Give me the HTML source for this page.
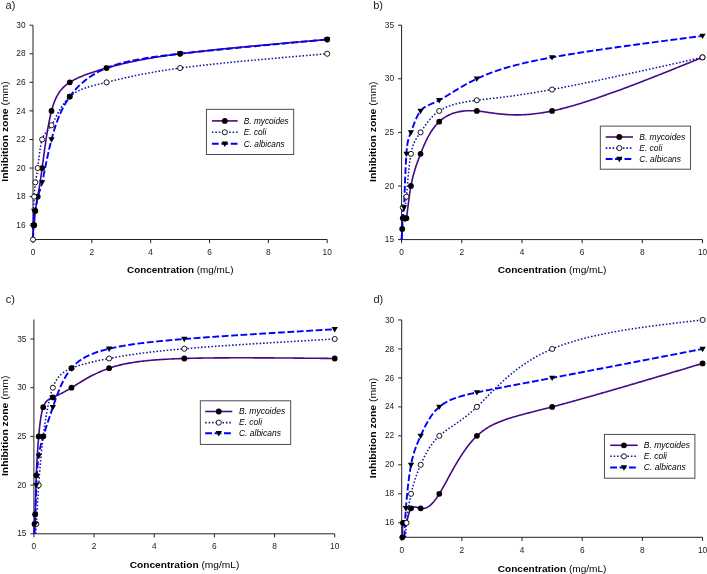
<!DOCTYPE html>
<html lang="en"><head><meta charset="utf-8"><title>Inhibition zone vs concentration</title>
<style>
html,body{margin:0;padding:0;background:#fff;}
body{width:707px;height:574px;overflow:hidden;font-family:"Liberation Sans", sans-serif;}
svg{display:block;}
</style></head><body>
<svg width="707" height="574" viewBox="0 0 707 574">
<rect width="707" height="574" fill="#fff"/>
<g id="panel-a">
<clipPath id="clip-a"><rect x="29" y="21.19" width="302.2" height="218.91"/></clipPath>
<path d="M33,25.19V239.5H327.2" fill="none" stroke="#222" stroke-width="1"/>
<path d="M33,239.5v3.6M91.84,239.5v3.6M150.68,239.5v3.6M209.52,239.5v3.6M268.36,239.5v3.6M327.2,239.5v3.6M33,225.21h-3.5M33,196.64h-3.5M33,168.06h-3.5M33,139.49h-3.5M33,110.92h-3.5M33,82.34h-3.5M33,53.77h-3.5M33,25.19h-3.5" fill="none" stroke="#222" stroke-width="1"/>
<g font-size="8.3" fill="#222" font-family='"Liberation Sans", sans-serif'>
<text x="33" y="254.7" text-anchor="middle">0</text>
<text x="91.84" y="254.7" text-anchor="middle">2</text>
<text x="150.68" y="254.7" text-anchor="middle">4</text>
<text x="209.52" y="254.7" text-anchor="middle">6</text>
<text x="268.36" y="254.7" text-anchor="middle">8</text>
<text x="327.2" y="254.7" text-anchor="middle">10</text>
<text x="25.5" y="227.81" text-anchor="end">16</text>
<text x="25.5" y="199.24" text-anchor="end">18</text>
<text x="25.5" y="170.66" text-anchor="end">20</text>
<text x="25.5" y="142.09" text-anchor="end">22</text>
<text x="25.5" y="113.52" text-anchor="end">24</text>
<text x="25.5" y="84.94" text-anchor="end">26</text>
<text x="25.5" y="56.37" text-anchor="end">28</text>
<text x="25.5" y="27.79" text-anchor="end">30</text>
</g>
<text transform="translate(180.3,273.2) scale(1,1)" text-anchor="middle" font-size="9.9" fill="#000" font-family='"Liberation Sans", sans-serif'><tspan font-weight="bold">Concentration</tspan> (mg/mL)</text>
<text transform="translate(7.7,131.5) rotate(-90) scale(1.083,1)" text-anchor="middle" font-size="9.6" fill="#000" font-family='"Liberation Sans", sans-serif'><tspan font-weight="bold">Inhibition zone</tspan> (mm)</text>
<text x="5.6" y="8.9" font-size="11" fill="#222" font-family='"Liberation Sans", sans-serif'>a)</text>
<path clip-path="url(#clip-a)" d="M33,239.5 L33.07,237.38 L33.14,235.29 L33.2,233.29 L33.27,231.41 L33.34,229.69 L33.4,228.17 L33.47,226.89 L33.53,225.89 L33.59,225.21 L33.68,224.82 L33.76,224.96 L33.85,225.34 L33.95,225.7 L34.06,225.75 L34.18,225.21 L34.27,224.41 L34.36,223.28 L34.47,221.87 L34.59,220.25 L34.71,218.47 L34.85,216.59 L35.01,214.67 L35.17,212.76 L35.35,210.93 L35.55,209.21 L35.76,207.59 L35.99,206.04 L36.23,204.54 L36.5,203.04 L36.77,201.54 L37.07,199.99 L37.38,198.36 L37.71,196.64 L37.87,195.78 L38.04,194.88 L38.21,193.94 L38.38,192.95 L38.57,191.91 L38.76,190.81 L38.96,189.64 L39.16,188.39 L39.38,187.07 L39.6,185.66 L39.83,184.16 L40.08,182.56 L40.33,180.85 L40.6,179.04 L40.87,177.1 L41.17,175.04 L41.47,172.86 L41.79,170.53 L42.12,168.06 L42.29,166.78 L42.47,165.45 L42.65,164.1 L42.83,162.71 L43.02,161.29 L43.21,159.85 L43.4,158.38 L43.6,156.88 L43.81,155.37 L44.01,153.83 L44.22,152.28 L44.44,150.71 L44.66,149.13 L44.88,147.54 L45.11,145.93 L45.34,144.32 L45.58,142.71 L45.81,141.09 L46.06,139.46 L46.31,137.84 L46.56,136.22 L46.82,134.61 L47.08,133 L47.34,131.4 L47.61,129.8 L47.89,128.22 L48.17,126.66 L48.45,125.11 L48.74,123.58 L49.03,122.06 L49.33,120.57 L49.63,119.11 L49.93,117.67 L50.25,116.25 L50.56,114.87 L50.88,113.52 L51.21,112.2 L51.53,110.92 L52.11,108.79 L52.71,106.77 L53.32,104.85 L53.95,103.03 L54.6,101.31 L55.27,99.67 L55.96,98.13 L56.68,96.66 L57.42,95.27 L58.18,93.96 L58.97,92.72 L59.79,91.53 L60.64,90.41 L61.51,89.35 L62.42,88.34 L63.37,87.37 L64.34,86.45 L65.35,85.57 L66.4,84.72 L67.49,83.9 L68.61,83.11 L69.78,82.34 L70.79,81.71 L71.84,81.08 L72.92,80.47 L74.03,79.86 L75.17,79.27 L76.33,78.69 L77.54,78.11 L78.77,77.54 L80.03,76.98 L81.33,76.43 L82.65,75.89 L84.01,75.35 L85.4,74.81 L86.83,74.28 L88.29,73.76 L89.78,73.23 L91.3,72.71 L92.86,72.2 L94.45,71.68 L96.07,71.16 L97.73,70.65 L99.43,70.13 L101.15,69.62 L102.92,69.1 L104.72,68.58 L106.55,68.06 L107.54,67.78 L108.54,67.5 L109.55,67.22 L110.57,66.94 L111.6,66.65 L112.65,66.37 L113.71,66.09 L114.79,65.8 L115.88,65.52 L116.99,65.23 L118.12,64.94 L119.26,64.66 L120.42,64.37 L121.6,64.08 L122.8,63.79 L124.02,63.5 L125.26,63.21 L126.52,62.92 L127.81,62.63 L129.11,62.34 L130.45,62.04 L131.8,61.75 L133.18,61.46 L134.59,61.17 L136.02,60.87 L137.48,60.58 L138.97,60.28 L140.48,59.99 L142.03,59.69 L143.61,59.4 L145.21,59.1 L146.85,58.81 L148.52,58.51 L150.22,58.21 L151.95,57.92 L153.72,57.62 L155.52,57.32 L157.36,57.03 L159.23,56.73 L161.14,56.43 L163.09,56.14 L165.08,55.84 L167.1,55.54 L169.17,55.25 L171.27,54.95 L173.42,54.66 L175.6,54.36 L177.83,54.06 L180.1,53.77 L181.25,53.62 L182.41,53.47 L183.59,53.33 L184.77,53.18 L185.96,53.03 L187.17,52.88 L188.38,52.74 L189.61,52.59 L190.84,52.44 L192.09,52.29 L193.34,52.15 L194.6,52 L195.88,51.85 L197.16,51.71 L198.45,51.56 L199.75,51.41 L201.06,51.27 L202.38,51.12 L203.71,50.97 L205.05,50.83 L206.39,50.68 L207.75,50.53 L209.11,50.39 L210.48,50.24 L211.86,50.09 L213.25,49.95 L214.64,49.8 L216.05,49.65 L217.46,49.51 L218.88,49.36 L220.3,49.22 L221.73,49.07 L223.18,48.92 L224.62,48.78 L226.08,48.63 L227.54,48.49 L229.01,48.34 L230.48,48.19 L231.97,48.05 L233.46,47.9 L234.95,47.76 L236.45,47.61 L237.96,47.46 L239.47,47.32 L240.99,47.17 L242.52,47.03 L244.05,46.88 L245.59,46.74 L247.13,46.59 L248.68,46.44 L250.23,46.3 L251.79,46.15 L253.35,46.01 L254.92,45.86 L256.5,45.72 L258.08,45.57 L259.66,45.43 L261.25,45.28 L262.84,45.14 L264.43,44.99 L266.03,44.85 L267.64,44.7 L269.25,44.56 L270.86,44.41 L272.48,44.26 L274.1,44.12 L275.72,43.97 L277.35,43.83 L278.98,43.68 L280.61,43.54 L282.25,43.39 L283.89,43.25 L285.53,43.1 L287.17,42.96 L288.82,42.81 L290.47,42.67 L292.12,42.52 L293.78,42.38 L295.44,42.23 L297.1,42.09 L298.76,41.94 L300.42,41.8 L302.09,41.65 L303.75,41.51 L305.42,41.36 L307.09,41.22 L308.76,41.08 L310.43,40.93 L312.11,40.79 L313.78,40.64 L315.46,40.5 L317.13,40.35 L318.81,40.21 L320.49,40.06 L322.17,39.92 L323.84,39.77 L325.52,39.63 L327.2,39.48" fill="none" stroke="#470a86" stroke-width="1.6"/>
<path clip-path="url(#clip-a)" d="M33,239.5 L33.03,237.79 L33.06,236.08 L33.1,234.38 L33.13,232.69 L33.16,231.02 L33.19,229.36 L33.22,227.72 L33.26,226.11 L33.29,224.52 L33.32,222.97 L33.35,221.45 L33.38,219.96 L33.41,218.52 L33.44,217.12 L33.47,215.77 L33.5,214.48 L33.53,213.23 L33.56,212.05 L33.59,210.93 L33.65,208.76 L33.71,206.85 L33.76,205.13 L33.82,203.58 L33.89,202.14 L33.95,200.77 L34.02,199.42 L34.1,198.06 L34.18,196.64 L34.27,195.12 L34.36,193.53 L34.47,191.88 L34.59,190.2 L34.71,188.53 L34.85,186.88 L35.01,185.28 L35.17,183.76 L35.35,182.35 L35.55,181.06 L35.76,179.83 L35.99,178.61 L36.23,177.35 L36.5,175.96 L36.77,174.4 L37.07,172.61 L37.38,170.52 L37.71,168.06 L37.87,166.76 L38.04,165.38 L38.21,163.92 L38.38,162.4 L38.57,160.83 L38.76,159.22 L38.96,157.58 L39.16,155.92 L39.38,154.25 L39.6,152.58 L39.83,150.93 L40.08,149.3 L40.33,147.71 L40.6,146.16 L40.87,144.67 L41.17,143.25 L41.47,141.9 L41.79,140.65 L42.12,139.49 L42.73,137.74 L43.39,136.26 L44.09,134.99 L44.84,133.87 L45.64,132.84 L46.49,131.84 L47.39,130.81 L48.35,129.69 L49.35,128.43 L50.42,126.95 L51.53,125.2 L52.11,124.21 L52.71,123.15 L53.32,122.01 L53.95,120.82 L54.6,119.57 L55.27,118.27 L55.96,116.93 L56.68,115.56 L57.42,114.16 L58.18,112.74 L58.97,111.3 L59.79,109.86 L60.64,108.42 L61.51,106.99 L62.42,105.57 L63.37,104.18 L64.34,102.81 L65.35,101.48 L66.4,100.18 L67.49,98.94 L68.61,97.75 L69.78,96.63 L70.79,95.73 L71.84,94.88 L72.92,94.07 L74.03,93.31 L75.17,92.59 L76.33,91.9 L77.54,91.25 L78.77,90.63 L80.03,90.04 L81.33,89.48 L82.65,88.95 L84.01,88.44 L85.4,87.95 L86.83,87.47 L88.29,87.02 L89.78,86.57 L91.3,86.14 L92.86,85.72 L94.45,85.3 L96.07,84.88 L97.73,84.47 L99.43,84.06 L101.15,83.64 L102.92,83.22 L104.72,82.79 L106.55,82.34 L107.54,82.1 L108.54,81.86 L109.55,81.61 L110.57,81.36 L111.6,81.11 L112.65,80.85 L113.71,80.59 L114.79,80.33 L115.88,80.06 L116.99,79.79 L118.12,79.52 L119.26,79.24 L120.42,78.97 L121.6,78.69 L122.8,78.4 L124.02,78.12 L125.26,77.83 L126.52,77.54 L127.81,77.25 L129.11,76.96 L130.45,76.66 L131.8,76.37 L133.18,76.07 L134.59,75.77 L136.02,75.47 L137.48,75.17 L138.97,74.86 L140.48,74.56 L142.03,74.25 L143.61,73.95 L145.21,73.64 L146.85,73.33 L148.52,73.02 L150.22,72.71 L151.95,72.4 L153.72,72.09 L155.52,71.78 L157.36,71.47 L159.23,71.16 L161.14,70.84 L163.09,70.53 L165.08,70.22 L167.1,69.91 L169.17,69.6 L171.27,69.29 L173.42,68.98 L175.6,68.67 L177.83,68.36 L180.1,68.06 L181.25,67.9 L182.41,67.75 L183.59,67.6 L184.77,67.44 L185.96,67.29 L187.17,67.14 L188.38,66.99 L189.61,66.84 L190.84,66.68 L192.09,66.53 L193.34,66.38 L194.6,66.23 L195.88,66.08 L197.16,65.93 L198.45,65.78 L199.75,65.63 L201.06,65.48 L202.38,65.33 L203.71,65.18 L205.05,65.03 L206.39,64.88 L207.75,64.73 L209.11,64.58 L210.48,64.44 L211.86,64.29 L213.25,64.14 L214.64,63.99 L216.05,63.84 L217.46,63.7 L218.88,63.55 L220.3,63.4 L221.73,63.25 L223.18,63.11 L224.62,62.96 L226.08,62.81 L227.54,62.67 L229.01,62.52 L230.48,62.37 L231.97,62.23 L233.46,62.08 L234.95,61.93 L236.45,61.79 L237.96,61.64 L239.47,61.5 L240.99,61.35 L242.52,61.21 L244.05,61.06 L245.59,60.92 L247.13,60.77 L248.68,60.63 L250.23,60.48 L251.79,60.34 L253.35,60.19 L254.92,60.05 L256.5,59.91 L258.08,59.76 L259.66,59.62 L261.25,59.47 L262.84,59.33 L264.43,59.19 L266.03,59.04 L267.64,58.9 L269.25,58.76 L270.86,58.61 L272.48,58.47 L274.1,58.33 L275.72,58.18 L277.35,58.04 L278.98,57.9 L280.61,57.75 L282.25,57.61 L283.89,57.47 L285.53,57.32 L287.17,57.18 L288.82,57.04 L290.47,56.9 L292.12,56.75 L293.78,56.61 L295.44,56.47 L297.1,56.33 L298.76,56.18 L300.42,56.04 L302.09,55.9 L303.75,55.76 L305.42,55.62 L307.09,55.47 L308.76,55.33 L310.43,55.19 L312.11,55.05 L313.78,54.9 L315.46,54.76 L317.13,54.62 L318.81,54.48 L320.49,54.34 L322.17,54.19 L323.84,54.05 L325.52,53.91 L327.2,53.77" fill="none" stroke="#1414a4" stroke-width="1.55" stroke-dasharray="1.55 1.9"/>
<path clip-path="url(#clip-a)" d="M33,239.5 L33.07,238.06 L33.14,236.61 L33.2,235.13 L33.27,233.63 L33.34,232.08 L33.4,230.47 L33.47,228.8 L33.53,227.05 L33.59,225.21 L33.65,223.29 L33.71,221.32 L33.76,219.36 L33.82,217.47 L33.89,215.7 L33.95,214.1 L34.02,212.74 L34.1,211.66 L34.18,210.93 L34.31,210.5 L34.47,210.66 L34.65,211.09 L34.85,211.49 L35.09,211.53 L35.35,210.93 L35.55,210.03 L35.76,208.78 L35.99,207.26 L36.23,205.54 L36.5,203.69 L36.77,201.8 L37.07,199.95 L37.38,198.2 L37.71,196.64 L38.05,195.31 L38.42,194.15 L38.82,193.05 L39.25,191.92 L39.73,190.66 L40.24,189.18 L40.81,187.36 L41.44,185.12 L42.12,182.35 L42.35,181.37 L42.58,180.34 L42.82,179.24 L43.06,178.1 L43.32,176.9 L43.58,175.66 L43.84,174.37 L44.11,173.04 L44.39,171.67 L44.68,170.26 L44.97,168.81 L45.28,167.34 L45.58,165.83 L45.9,164.29 L46.22,162.73 L46.55,161.14 L46.89,159.53 L47.23,157.91 L47.59,156.26 L47.95,154.61 L48.31,152.94 L48.69,151.26 L49.07,149.58 L49.46,147.9 L49.86,146.21 L50.27,144.52 L50.68,142.84 L51.1,141.16 L51.53,139.49 L51.94,137.94 L52.36,136.4 L52.79,134.86 L53.22,133.34 L53.67,131.83 L54.12,130.32 L54.58,128.83 L55.05,127.35 L55.54,125.88 L56.03,124.42 L56.54,122.97 L57.06,121.53 L57.59,120.11 L58.13,118.69 L58.69,117.29 L59.26,115.9 L59.84,114.53 L60.44,113.16 L61.06,111.81 L61.69,110.47 L62.33,109.14 L63,107.83 L63.68,106.53 L64.37,105.24 L65.09,103.97 L65.82,102.71 L66.57,101.46 L67.34,100.23 L68.13,99.02 L68.94,97.82 L69.78,96.63 L70.63,95.46 L71.5,94.3 L72.39,93.16 L73.31,92.04 L74.24,90.93 L75.2,89.83 L76.18,88.75 L77.18,87.69 L78.21,86.64 L79.25,85.62 L80.32,84.6 L81.41,83.61 L82.52,82.63 L83.66,81.66 L84.82,80.72 L86,79.79 L87.2,78.88 L88.43,77.99 L89.68,77.11 L90.95,76.26 L92.25,75.42 L93.57,74.6 L94.92,73.79 L96.29,73.01 L97.68,72.25 L99.1,71.5 L100.54,70.77 L102,70.06 L103.49,69.37 L105.01,68.71 L106.55,68.06 L107.54,67.66 L108.54,67.26 L109.55,66.88 L110.57,66.5 L111.6,66.13 L112.65,65.76 L113.71,65.41 L114.79,65.05 L115.88,64.71 L116.99,64.37 L118.12,64.04 L119.26,63.71 L120.42,63.39 L121.6,63.07 L122.8,62.76 L124.02,62.46 L125.26,62.15 L126.52,61.86 L127.81,61.56 L129.11,61.28 L130.45,60.99 L131.8,60.71 L133.18,60.43 L134.59,60.16 L136.02,59.89 L137.48,59.62 L138.97,59.35 L140.48,59.09 L142.03,58.83 L143.61,58.57 L145.21,58.31 L146.85,58.06 L148.52,57.8 L150.22,57.55 L151.95,57.3 L153.72,57.05 L155.52,56.8 L157.36,56.55 L159.23,56.3 L161.14,56.05 L163.09,55.8 L165.08,55.55 L167.1,55.3 L169.17,55.04 L171.27,54.79 L173.42,54.54 L175.6,54.28 L177.83,54.03 L180.1,53.77 L181.25,53.64 L182.41,53.51 L183.59,53.38 L184.77,53.25 L185.96,53.11 L187.17,52.98 L188.38,52.85 L189.61,52.72 L190.84,52.58 L192.09,52.45 L193.34,52.31 L194.6,52.18 L195.88,52.04 L197.16,51.91 L198.45,51.77 L199.75,51.64 L201.06,51.5 L202.38,51.36 L203.71,51.22 L205.05,51.08 L206.39,50.95 L207.75,50.81 L209.11,50.67 L210.48,50.53 L211.86,50.39 L213.25,50.25 L214.64,50.11 L216.05,49.96 L217.46,49.82 L218.88,49.68 L220.3,49.54 L221.73,49.4 L223.18,49.25 L224.62,49.11 L226.08,48.97 L227.54,48.82 L229.01,48.68 L230.48,48.53 L231.97,48.39 L233.46,48.24 L234.95,48.1 L236.45,47.95 L237.96,47.8 L239.47,47.66 L240.99,47.51 L242.52,47.36 L244.05,47.22 L245.59,47.07 L247.13,46.92 L248.68,46.77 L250.23,46.63 L251.79,46.48 L253.35,46.33 L254.92,46.18 L256.5,46.03 L258.08,45.88 L259.66,45.73 L261.25,45.58 L262.84,45.43 L264.43,45.28 L266.03,45.13 L267.64,44.98 L269.25,44.83 L270.86,44.68 L272.48,44.53 L274.1,44.38 L275.72,44.23 L277.35,44.08 L278.98,43.92 L280.61,43.77 L282.25,43.62 L283.89,43.47 L285.53,43.32 L287.17,43.16 L288.82,43.01 L290.47,42.86 L292.12,42.71 L293.78,42.55 L295.44,42.4 L297.1,42.25 L298.76,42.09 L300.42,41.94 L302.09,41.79 L303.75,41.63 L305.42,41.48 L307.09,41.33 L308.76,41.17 L310.43,41.02 L312.11,40.87 L313.78,40.71 L315.46,40.56 L317.13,40.41 L318.81,40.25 L320.49,40.1 L322.17,39.94 L323.84,39.79 L325.52,39.64 L327.2,39.48" fill="none" stroke="#0000ff" stroke-width="1.9" stroke-dasharray="6.8 2.6"/>
<circle cx="33.59" cy="225.21" r="2.9" fill="#000"/>
<circle cx="34.18" cy="225.21" r="2.9" fill="#000"/>
<circle cx="35.35" cy="210.93" r="2.9" fill="#000"/>
<circle cx="37.71" cy="196.64" r="2.9" fill="#000"/>
<circle cx="42.12" cy="168.06" r="2.9" fill="#000"/>
<circle cx="51.53" cy="110.92" r="2.9" fill="#000"/>
<circle cx="69.78" cy="82.34" r="2.9" fill="#000"/>
<circle cx="106.55" cy="68.06" r="2.9" fill="#000"/>
<circle cx="180.1" cy="53.77" r="2.9" fill="#000"/>
<circle cx="327.2" cy="39.48" r="2.9" fill="#000"/>
<circle cx="33" cy="239.5" r="2.55" fill="#fff" stroke="#000" stroke-width="0.9"/>
<circle cx="34.18" cy="196.64" r="2.55" fill="#fff" stroke="#000" stroke-width="0.9"/>
<circle cx="35.35" cy="182.35" r="2.55" fill="#fff" stroke="#000" stroke-width="0.9"/>
<circle cx="37.71" cy="168.06" r="2.55" fill="#fff" stroke="#000" stroke-width="0.9"/>
<circle cx="42.12" cy="139.49" r="2.55" fill="#fff" stroke="#000" stroke-width="0.9"/>
<circle cx="51.53" cy="125.2" r="2.55" fill="#fff" stroke="#000" stroke-width="0.9"/>
<circle cx="69.78" cy="96.63" r="2.55" fill="#fff" stroke="#000" stroke-width="0.9"/>
<circle cx="106.55" cy="82.34" r="2.55" fill="#fff" stroke="#000" stroke-width="0.9"/>
<circle cx="180.1" cy="68.06" r="2.55" fill="#fff" stroke="#000" stroke-width="0.9"/>
<circle cx="327.2" cy="53.77" r="2.55" fill="#fff" stroke="#000" stroke-width="0.9"/>
<path d="M30.44,223.01H36.74L33.59,228.41Z" fill="#000"/>
<path d="M31.03,208.73H37.33L34.18,214.13Z" fill="#000"/>
<path d="M38.97,180.15H45.27L42.12,185.55Z" fill="#000"/>
<path d="M48.38,137.29H54.68L51.53,142.69Z" fill="#000"/>
<circle cx="69.78" cy="96.63" r="2.7" fill="#000"/>
<path d="M66.62,94.43H72.93L69.78,99.83Z" fill="#000"/>
<path d="M103.4,65.86H109.7L106.55,71.26Z" fill="#000"/>
<path d="M176.95,51.57H183.25L180.1,56.97Z" fill="#000"/>
<path d="M324.05,37.28H330.35L327.2,42.68Z" fill="#000"/>
<rect x="206.4" y="109.3" width="87.3" height="45.2" fill="#fff" stroke="#3a3a3a" stroke-width="0.9"/>
<path d="M211.9,120.9H237.7" fill="none" stroke="#470a86" stroke-width="1.6"/>
<circle cx="224.8" cy="120.9" r="2.9" fill="#000"/>
<text x="243.8" y="123.7" font-size="8.26" font-style="italic" fill="#000" font-family='"Liberation Sans", sans-serif'>B. mycoides</text>
<path d="M211.9,132.3H237.7" fill="none" stroke="#1414a4" stroke-width="1.55" stroke-dasharray="1.55 1.9"/>
<circle cx="224.8" cy="132.3" r="2.55" fill="#fff" stroke="#000" stroke-width="0.9"/>
<text x="243.8" y="135.1" font-size="8.26" font-style="italic" fill="#000" font-family='"Liberation Sans", sans-serif'>E. coli</text>
<path d="M211.9,143.8H237.7" fill="none" stroke="#0000ff" stroke-width="1.9" stroke-dasharray="6.8 2.6"/>
<path d="M221.65,141.6H227.95L224.8,147Z" fill="#000"/>
<text x="243.8" y="146.6" font-size="8.26" font-style="italic" fill="#000" font-family='"Liberation Sans", sans-serif'>C. albicans</text>
</g>
<g id="panel-b">
<clipPath id="clip-b"><rect x="397.6" y="21.2" width="308.9" height="219"/></clipPath>
<path d="M401.6,25.2V239.6H702.5" fill="none" stroke="#222" stroke-width="1"/>
<path d="M401.6,239.6v3.6M461.78,239.6v3.6M521.96,239.6v3.6M582.14,239.6v3.6M642.32,239.6v3.6M702.5,239.6v3.6M401.6,239.6h-3.5M401.6,186h-3.5M401.6,132.4h-3.5M401.6,78.8h-3.5M401.6,25.2h-3.5" fill="none" stroke="#222" stroke-width="1"/>
<g font-size="8.3" fill="#222" font-family='"Liberation Sans", sans-serif'>
<text x="401.6" y="254.7" text-anchor="middle">0</text>
<text x="461.78" y="254.7" text-anchor="middle">2</text>
<text x="521.96" y="254.7" text-anchor="middle">4</text>
<text x="582.14" y="254.7" text-anchor="middle">6</text>
<text x="642.32" y="254.7" text-anchor="middle">8</text>
<text x="702.5" y="254.7" text-anchor="middle">10</text>
<text x="394.1" y="242.2" text-anchor="end">15</text>
<text x="394.1" y="188.6" text-anchor="end">20</text>
<text x="394.1" y="135" text-anchor="end">25</text>
<text x="394.1" y="81.4" text-anchor="end">30</text>
<text x="394.1" y="27.8" text-anchor="end">35</text>
</g>
<text transform="translate(552.1,273.1) scale(1.02,1)" text-anchor="middle" font-size="9.9" fill="#000" font-family='"Liberation Sans", sans-serif'><tspan font-weight="bold">Concentration</tspan> (mg/mL)</text>
<text transform="translate(375.7,131.7) rotate(-90) scale(1.083,1)" text-anchor="middle" font-size="9.6" fill="#000" font-family='"Liberation Sans", sans-serif'><tspan font-weight="bold">Inhibition zone</tspan> (mm)</text>
<text x="373.2" y="8.9" font-size="11" fill="#222" font-family='"Liberation Sans", sans-serif'>b)</text>
<path clip-path="url(#clip-b)" d="M401.6,239.6 L401.69,238.15 L401.78,236.7 L401.87,235.22 L401.95,233.71 L402.04,232.15 L402.12,230.55 L402.2,228.88 L402.28,227.15 L402.36,225.4 L402.43,223.67 L402.51,222.04 L402.6,220.54 L402.7,219.23 L402.8,218.16 L402.94,217.27 L403.1,216.77 L403.29,216.62 L403.5,216.82 L403.74,217.34 L404.01,218.16 L404.31,219.21 L404.66,220.25 L405.04,220.96 L405.46,221.05 L405.92,220.22 L406.41,218.16 L406.56,217.31 L406.72,216.34 L406.87,215.26 L407.04,214.08 L407.2,212.81 L407.38,211.45 L407.56,210.02 L407.74,208.51 L407.93,206.94 L408.13,205.31 L408.34,203.64 L408.55,201.93 L408.78,200.18 L409.01,198.42 L409.25,196.63 L409.5,194.84 L409.77,193.04 L410.04,191.25 L410.32,189.48 L410.62,187.72 L410.93,186 L411.23,184.39 L411.55,182.81 L411.88,181.26 L412.22,179.73 L412.58,178.23 L412.94,176.75 L413.32,175.29 L413.71,173.84 L414.11,172.41 L414.53,170.99 L414.96,169.57 L415.4,168.16 L415.85,166.76 L416.32,165.36 L416.8,163.95 L417.3,162.54 L417.8,161.12 L418.33,159.7 L418.86,158.26 L419.41,156.8 L419.98,155.33 L420.56,153.84 L421.1,152.45 L421.66,151.05 L422.23,149.64 L422.81,148.21 L423.42,146.78 L424.03,145.34 L424.67,143.9 L425.33,142.46 L426,141.02 L426.7,139.59 L427.42,138.16 L428.16,136.75 L428.93,135.35 L429.72,133.97 L430.54,132.61 L431.38,131.27 L432.25,129.95 L433.15,128.67 L434.08,127.41 L435.04,126.19 L436.03,125 L437.06,123.85 L438.12,122.74 L439.21,121.68 L440.25,120.74 L441.32,119.84 L442.43,118.98 L443.56,118.16 L444.73,117.38 L445.92,116.65 L447.15,115.95 L448.41,115.3 L449.7,114.69 L451.03,114.12 L452.38,113.59 L453.77,113.11 L455.2,112.67 L456.65,112.27 L458.14,111.92 L459.67,111.61 L461.23,111.34 L462.82,111.12 L464.45,110.94 L466.11,110.81 L467.81,110.72 L469.54,110.68 L471.31,110.68 L473.11,110.73 L474.95,110.82 L476.83,110.96 L477.81,111.05 L478.82,111.15 L479.83,111.27 L480.85,111.39 L481.89,111.52 L482.93,111.66 L484,111.81 L485.07,111.96 L486.17,112.12 L487.27,112.28 L488.4,112.44 L489.54,112.61 L490.7,112.77 L491.88,112.94 L493.07,113.11 L494.29,113.27 L495.53,113.43 L496.78,113.59 L498.06,113.75 L499.37,113.89 L500.69,114.03 L502.04,114.17 L503.41,114.29 L504.81,114.41 L506.23,114.51 L507.68,114.61 L509.16,114.69 L510.66,114.76 L512.19,114.81 L513.75,114.85 L515.34,114.87 L516.96,114.88 L518.62,114.87 L520.3,114.83 L522.01,114.78 L523.76,114.71 L525.54,114.62 L527.36,114.5 L529.21,114.36 L531.1,114.19 L533.02,114 L534.98,113.78 L536.97,113.54 L539.01,113.26 L541.08,112.96 L543.19,112.62 L545.35,112.26 L547.54,111.86 L549.77,111.43 L552.05,110.96 L553.14,110.73 L554.24,110.49 L555.34,110.24 L556.46,109.99 L557.59,109.72 L558.72,109.45 L559.86,109.17 L561.02,108.89 L562.18,108.6 L563.35,108.3 L564.53,107.99 L565.71,107.68 L566.91,107.36 L568.11,107.03 L569.33,106.7 L570.55,106.35 L571.77,106.01 L573.01,105.65 L574.25,105.29 L575.51,104.92 L576.77,104.55 L578.03,104.17 L579.31,103.79 L580.59,103.39 L581.88,102.99 L583.18,102.59 L584.48,102.18 L585.79,101.76 L587.11,101.34 L588.44,100.91 L589.77,100.48 L591.11,100.04 L592.45,99.6 L593.8,99.15 L595.16,98.69 L596.52,98.23 L597.9,97.77 L599.27,97.3 L600.66,96.82 L602.04,96.34 L603.44,95.86 L604.84,95.37 L606.25,94.87 L607.66,94.37 L609.08,93.87 L610.5,93.36 L611.93,92.84 L613.36,92.33 L614.8,91.8 L616.25,91.28 L617.69,90.75 L619.15,90.21 L620.61,89.68 L622.07,89.13 L623.54,88.59 L625.01,88.04 L626.49,87.48 L627.97,86.93 L629.46,86.37 L630.95,85.8 L632.44,85.23 L633.94,84.66 L635.44,84.09 L636.95,83.51 L638.46,82.93 L639.97,82.35 L641.49,81.76 L643.01,81.17 L644.53,80.58 L646.06,79.98 L647.59,79.38 L649.13,78.78 L650.66,78.18 L652.2,77.58 L653.75,76.97 L655.29,76.36 L656.84,75.75 L658.39,75.13 L659.94,74.52 L661.5,73.9 L663.06,73.28 L664.62,72.66 L666.18,72.03 L667.74,71.41 L669.31,70.78 L670.88,70.15 L672.45,69.52 L674.02,68.89 L675.59,68.25 L677.17,67.62 L678.74,66.98 L680.32,66.35 L681.9,65.71 L683.48,65.07 L685.06,64.43 L686.64,63.79 L688.23,63.15 L689.81,62.51 L691.4,61.87 L692.98,61.22 L694.57,60.58 L696.15,59.94 L697.74,59.29 L699.33,58.65 L700.91,58 L702.5,57.36" fill="none" stroke="#470a86" stroke-width="1.6"/>
<path clip-path="url(#clip-b)" d="M401.6,239.6 L401.64,237.92 L401.69,236.24 L401.73,234.58 L401.78,232.93 L401.82,231.29 L401.87,229.68 L401.91,228.1 L401.95,226.54 L402,225.03 L402.04,223.55 L402.08,222.13 L402.12,220.75 L402.16,219.42 L402.2,218.16 L402.28,215.82 L402.36,213.75 L402.43,211.94 L402.51,210.4 L402.6,209.13 L402.7,208.14 L402.8,207.44 L402.94,206.97 L403.1,206.8 L403.29,206.85 L403.5,207.03 L403.74,207.25 L404.01,207.44 L404.27,207.48 L404.56,207.27 L404.87,206.64 L405.21,205.43 L405.59,203.48 L405.99,200.63 L406.41,196.72 L406.53,195.56 L406.64,194.32 L406.76,193.03 L406.87,191.66 L407,190.25 L407.12,188.78 L407.25,187.26 L407.38,185.71 L407.51,184.12 L407.65,182.5 L407.79,180.85 L407.93,179.18 L408.08,177.5 L408.23,175.8 L408.39,174.1 L408.55,172.4 L408.72,170.71 L408.89,169.02 L409.07,167.36 L409.25,165.71 L409.44,164.08 L409.63,162.49 L409.83,160.93 L410.04,159.41 L410.25,157.94 L410.47,156.51 L410.7,155.15 L410.93,153.84 L411.38,151.57 L411.86,149.51 L412.36,147.65 L412.89,145.94 L413.45,144.39 L414.03,142.96 L414.64,141.64 L415.28,140.4 L415.94,139.23 L416.64,138.1 L417.36,136.99 L418.12,135.89 L418.9,134.77 L419.71,133.62 L420.56,132.4 L421.28,131.33 L422.04,130.21 L422.81,129.05 L423.62,127.85 L424.46,126.63 L425.33,125.38 L426.23,124.12 L427.18,122.84 L428.16,121.56 L429.19,120.29 L430.26,119.02 L431.38,117.77 L432.55,116.54 L433.77,115.34 L435.04,114.18 L436.37,113.06 L437.76,111.98 L439.21,110.96 L440.25,110.29 L441.32,109.64 L442.43,109.03 L443.56,108.44 L444.73,107.87 L445.92,107.33 L447.15,106.82 L448.41,106.32 L449.7,105.85 L451.03,105.4 L452.38,104.97 L453.77,104.56 L455.2,104.16 L456.65,103.78 L458.14,103.42 L459.67,103.08 L461.23,102.74 L462.82,102.42 L464.45,102.12 L466.11,101.82 L467.81,101.54 L469.54,101.26 L471.31,101 L473.11,100.74 L474.95,100.49 L476.83,100.24 L477.81,100.11 L478.82,99.99 L479.83,99.86 L480.85,99.74 L481.89,99.62 L482.93,99.49 L484,99.37 L485.07,99.25 L486.17,99.12 L487.27,98.99 L488.4,98.86 L489.54,98.73 L490.7,98.6 L491.88,98.47 L493.07,98.33 L494.29,98.19 L495.53,98.04 L496.78,97.89 L498.06,97.74 L499.37,97.59 L500.69,97.43 L502.04,97.26 L503.41,97.09 L504.81,96.92 L506.23,96.73 L507.68,96.55 L509.16,96.35 L510.66,96.15 L512.19,95.95 L513.75,95.73 L515.34,95.51 L516.96,95.28 L518.62,95.05 L520.3,94.8 L522.01,94.55 L523.76,94.29 L525.54,94.01 L527.36,93.73 L529.21,93.44 L531.1,93.14 L533.02,92.83 L534.98,92.51 L536.97,92.18 L539.01,91.83 L541.08,91.48 L543.19,91.11 L545.35,90.73 L547.54,90.34 L549.77,89.94 L552.05,89.52 L553.18,89.31 L554.32,89.1 L555.47,88.88 L556.64,88.67 L557.81,88.44 L558.99,88.22 L560.18,87.99 L561.38,87.76 L562.59,87.53 L563.81,87.29 L565.04,87.05 L566.28,86.81 L567.52,86.57 L568.78,86.32 L570.04,86.07 L571.32,85.82 L572.6,85.56 L573.89,85.3 L575.19,85.04 L576.49,84.78 L577.81,84.51 L579.13,84.24 L580.46,83.97 L581.8,83.7 L583.15,83.42 L584.51,83.14 L585.87,82.86 L587.24,82.58 L588.62,82.3 L590,82.01 L591.4,81.72 L592.79,81.43 L594.2,81.13 L595.61,80.84 L597.03,80.54 L598.46,80.24 L599.9,79.94 L601.34,79.63 L602.78,79.32 L604.24,79.02 L605.69,78.71 L607.16,78.39 L608.63,78.08 L610.11,77.76 L611.59,77.44 L613.08,77.13 L614.58,76.8 L616.08,76.48 L617.58,76.16 L619.09,75.83 L620.61,75.5 L622.13,75.17 L623.65,74.84 L625.19,74.51 L626.72,74.17 L628.26,73.84 L629.81,73.5 L631.36,73.16 L632.91,72.82 L634.47,72.48 L636.03,72.14 L637.6,71.8 L639.17,71.45 L640.75,71.11 L642.32,70.76 L643.91,70.41 L645.49,70.06 L647.08,69.71 L648.67,69.36 L650.27,69 L651.87,68.65 L653.47,68.3 L655.08,67.94 L656.69,67.58 L658.3,67.23 L659.91,66.87 L661.53,66.51 L663.15,66.15 L664.77,65.79 L666.39,65.43 L668.02,65.07 L669.65,64.7 L671.28,64.34 L672.91,63.98 L674.54,63.61 L676.18,63.25 L677.82,62.88 L679.46,62.51 L681.1,62.15 L682.74,61.78 L684.38,61.41 L686.02,61.05 L687.67,60.68 L689.31,60.31 L690.96,59.94 L692.61,59.57 L694.26,59.21 L695.9,58.84 L697.55,58.47 L699.2,58.1 L700.85,57.73 L702.5,57.36" fill="none" stroke="#1414a4" stroke-width="1.55" stroke-dasharray="1.55 1.9"/>
<path clip-path="url(#clip-b)" d="M401.6,239.6 L401.69,238.21 L401.78,236.8 L401.87,235.35 L401.95,233.86 L402.04,232.29 L402.12,230.64 L402.2,228.88 L402.28,227.02 L402.36,225.12 L402.43,223.28 L402.51,221.57 L402.6,220.09 L402.7,218.93 L402.8,218.16 L402.92,217.81 L403.06,217.62 L403.2,217.26 L403.37,216.39 L403.56,214.68 L403.77,211.81 L404.01,207.44 L404.06,206.36 L404.11,205.21 L404.16,203.99 L404.21,202.71 L404.27,201.38 L404.32,199.99 L404.38,198.55 L404.44,197.06 L404.5,195.54 L404.56,193.97 L404.62,192.37 L404.68,190.74 L404.74,189.09 L404.81,187.41 L404.87,185.71 L404.94,184 L405.01,182.28 L405.07,180.55 L405.14,178.81 L405.21,177.08 L405.29,175.35 L405.36,173.63 L405.43,171.93 L405.51,170.24 L405.59,168.57 L405.66,166.92 L405.74,165.3 L405.82,163.72 L405.9,162.17 L405.99,160.66 L406.07,159.19 L406.15,157.77 L406.24,156.41 L406.33,155.09 L406.41,153.84 L406.64,150.98 L406.87,148.47 L407.12,146.28 L407.38,144.37 L407.65,142.7 L407.93,141.24 L408.23,139.95 L408.55,138.79 L408.89,137.71 L409.25,136.69 L409.63,135.69 L410.04,134.67 L410.47,133.58 L410.93,132.4 L411.38,131.18 L411.86,129.86 L412.36,128.46 L412.89,126.99 L413.45,125.46 L414.03,123.9 L414.64,122.32 L415.28,120.74 L415.94,119.17 L416.64,117.63 L417.36,116.14 L418.12,114.71 L418.9,113.36 L419.71,112.1 L420.56,110.96 L421.5,109.87 L422.48,108.91 L423.5,108.06 L424.58,107.3 L425.71,106.61 L426.9,105.96 L428.16,105.35 L429.49,104.75 L430.89,104.14 L432.38,103.49 L433.95,102.8 L435.61,102.04 L437.36,101.2 L439.21,100.24 L440.18,99.72 L441.17,99.16 L442.19,98.58 L443.23,97.97 L444.31,97.33 L445.4,96.67 L446.53,95.99 L447.69,95.28 L448.87,94.55 L450.08,93.81 L451.31,93.04 L452.58,92.27 L453.87,91.47 L455.2,90.67 L456.55,89.85 L457.93,89.02 L459.34,88.18 L460.78,87.34 L462.25,86.49 L463.75,85.63 L465.27,84.77 L466.83,83.91 L468.42,83.05 L470.04,82.19 L471.69,81.34 L473.37,80.49 L475.08,79.64 L476.83,78.8 L477.78,78.35 L478.74,77.91 L479.71,77.46 L480.69,77.02 L481.69,76.58 L482.69,76.14 L483.71,75.71 L484.74,75.28 L485.79,74.85 L486.85,74.42 L487.92,73.99 L489.01,73.56 L490.12,73.14 L491.24,72.72 L492.38,72.3 L493.54,71.88 L494.72,71.46 L495.91,71.05 L497.13,70.63 L498.36,70.22 L499.62,69.81 L500.9,69.4 L502.2,68.99 L503.52,68.58 L504.86,68.17 L506.23,67.77 L507.62,67.36 L509.04,66.96 L510.49,66.55 L511.96,66.15 L513.45,65.75 L514.97,65.35 L516.53,64.95 L518.1,64.55 L519.71,64.15 L521.35,63.75 L523.02,63.35 L524.72,62.95 L526.45,62.55 L528.21,62.15 L530,61.75 L531.83,61.36 L533.69,60.96 L535.59,60.56 L537.52,60.16 L539.48,59.76 L541.48,59.36 L543.52,58.96 L545.6,58.56 L547.71,58.16 L549.86,57.76 L552.05,57.36 L553.19,57.15 L554.35,56.95 L555.51,56.74 L556.68,56.53 L557.87,56.32 L559.06,56.12 L560.26,55.91 L561.48,55.7 L562.7,55.49 L563.93,55.28 L565.17,55.08 L566.42,54.87 L567.68,54.66 L568.95,54.45 L570.23,54.24 L571.52,54.03 L572.81,53.82 L574.12,53.61 L575.43,53.4 L576.75,53.19 L578.08,52.98 L579.42,52.77 L580.77,52.56 L582.12,52.35 L583.49,52.14 L584.86,51.93 L586.24,51.72 L587.62,51.51 L589.01,51.3 L590.42,51.09 L591.82,50.88 L593.24,50.67 L594.66,50.46 L596.09,50.25 L597.53,50.03 L598.97,49.82 L600.42,49.61 L601.88,49.4 L603.34,49.19 L604.81,48.98 L606.29,48.76 L607.77,48.55 L609.26,48.34 L610.75,48.13 L612.25,47.91 L613.76,47.7 L615.27,47.49 L616.79,47.28 L618.31,47.06 L619.84,46.85 L621.37,46.64 L622.91,46.42 L624.46,46.21 L626.01,46 L627.56,45.78 L629.12,45.57 L630.68,45.36 L632.25,45.14 L633.82,44.93 L635.4,44.72 L636.98,44.5 L638.56,44.29 L640.15,44.08 L641.75,43.86 L643.34,43.65 L644.94,43.43 L646.55,43.22 L648.15,43.01 L649.76,42.79 L651.38,42.58 L653,42.36 L654.62,42.15 L656.24,41.93 L657.87,41.72 L659.5,41.51 L661.13,41.29 L662.76,41.08 L664.4,40.86 L666.04,40.65 L667.68,40.43 L669.33,40.22 L670.97,40 L672.62,39.79 L674.27,39.57 L675.92,39.36 L677.57,39.14 L679.23,38.93 L680.88,38.71 L682.54,38.5 L684.2,38.28 L685.86,38.07 L687.52,37.86 L689.18,37.64 L690.85,37.43 L692.51,37.21 L694.17,37 L695.84,36.78 L697.5,36.57 L699.17,36.35 L700.83,36.14 L702.5,35.92" fill="none" stroke="#0000ff" stroke-width="1.9" stroke-dasharray="6.8 2.6"/>
<circle cx="402.2" cy="228.88" r="2.9" fill="#000"/>
<circle cx="402.8" cy="218.16" r="2.9" fill="#000"/>
<circle cx="404.01" cy="218.16" r="2.9" fill="#000"/>
<circle cx="406.41" cy="218.16" r="2.9" fill="#000"/>
<circle cx="410.93" cy="186" r="2.9" fill="#000"/>
<circle cx="420.56" cy="153.84" r="2.9" fill="#000"/>
<circle cx="439.21" cy="121.68" r="2.9" fill="#000"/>
<circle cx="476.83" cy="110.96" r="2.9" fill="#000"/>
<circle cx="552.05" cy="110.96" r="2.9" fill="#000"/>
<circle cx="702.5" cy="57.36" r="2.9" fill="#000"/>
<circle cx="402.8" cy="207.44" r="2.55" fill="#fff" stroke="#000" stroke-width="0.9"/>
<circle cx="406.41" cy="196.72" r="2.55" fill="#fff" stroke="#000" stroke-width="0.9"/>
<circle cx="410.93" cy="153.84" r="2.55" fill="#fff" stroke="#000" stroke-width="0.9"/>
<circle cx="420.56" cy="132.4" r="2.55" fill="#fff" stroke="#000" stroke-width="0.9"/>
<circle cx="439.21" cy="110.96" r="2.55" fill="#fff" stroke="#000" stroke-width="0.9"/>
<circle cx="476.83" cy="100.24" r="2.55" fill="#fff" stroke="#000" stroke-width="0.9"/>
<circle cx="552.05" cy="89.52" r="2.55" fill="#fff" stroke="#000" stroke-width="0.9"/>
<circle cx="702.5" cy="57.36" r="2.55" fill="#fff" stroke="#000" stroke-width="0.9"/>
<path d="M400.86,205.24H407.16L404.01,210.64Z" fill="#000"/>
<path d="M403.26,151.64H409.56L406.41,157.04Z" fill="#000"/>
<path d="M407.78,130.2H414.08L410.93,135.6Z" fill="#000"/>
<path d="M417.41,108.76H423.71L420.56,114.16Z" fill="#000"/>
<path d="M436.06,98.04H442.36L439.21,103.44Z" fill="#000"/>
<path d="M473.68,76.6H479.98L476.83,82Z" fill="#000"/>
<path d="M548.9,55.16H555.2L552.05,60.56Z" fill="#000"/>
<path d="M699.35,33.72H705.65L702.5,39.12Z" fill="#000"/>
<rect x="600.3" y="126.1" width="90.3" height="43.1" fill="#fff" stroke="#3a3a3a" stroke-width="0.9"/>
<path d="M605.7,137H633" fill="none" stroke="#470a86" stroke-width="1.6"/>
<circle cx="619.35" cy="137" r="2.9" fill="#000"/>
<text x="639.3" y="139.8" font-size="8.45" font-style="italic" fill="#000" font-family='"Liberation Sans", sans-serif'>B. mycoides</text>
<path d="M605.7,148.1H633" fill="none" stroke="#1414a4" stroke-width="1.55" stroke-dasharray="1.55 1.9"/>
<circle cx="619.35" cy="148.1" r="2.55" fill="#fff" stroke="#000" stroke-width="0.9"/>
<text x="639.3" y="150.9" font-size="8.45" font-style="italic" fill="#000" font-family='"Liberation Sans", sans-serif'>E. coli</text>
<path d="M605.7,159H633" fill="none" stroke="#0000ff" stroke-width="1.9" stroke-dasharray="6.8 2.6"/>
<path d="M616.2,156.8H622.5L619.35,162.2Z" fill="#000"/>
<text x="639.3" y="161.8" font-size="8.45" font-style="italic" fill="#000" font-family='"Liberation Sans", sans-serif'>C. albicans</text>
</g>
<g id="panel-c">
<clipPath id="clip-c"><rect x="29.9" y="315.52" width="308.8" height="218.88"/></clipPath>
<path d="M33.9,319.52V533.8H334.7" fill="none" stroke="#222" stroke-width="1"/>
<path d="M33.9,533.8v3.6M94.06,533.8v3.6M154.22,533.8v3.6M214.38,533.8v3.6M274.54,533.8v3.6M334.7,533.8v3.6M33.9,533.8h-3.5M33.9,485.1h-3.5M33.9,436.4h-3.5M33.9,387.7h-3.5M33.9,339h-3.5" fill="none" stroke="#222" stroke-width="1"/>
<g font-size="8.3" fill="#222" font-family='"Liberation Sans", sans-serif'>
<text x="33.9" y="549.1" text-anchor="middle">0</text>
<text x="94.06" y="549.1" text-anchor="middle">2</text>
<text x="154.22" y="549.1" text-anchor="middle">4</text>
<text x="214.38" y="549.1" text-anchor="middle">6</text>
<text x="274.54" y="549.1" text-anchor="middle">8</text>
<text x="334.7" y="549.1" text-anchor="middle">10</text>
<text x="26.4" y="536.4" text-anchor="end">15</text>
<text x="26.4" y="487.7" text-anchor="end">20</text>
<text x="26.4" y="439" text-anchor="end">25</text>
<text x="26.4" y="390.3" text-anchor="end">30</text>
<text x="26.4" y="341.6" text-anchor="end">35</text>
</g>
<text transform="translate(184.5,567.8) scale(1.03,1)" text-anchor="middle" font-size="9.9" fill="#000" font-family='"Liberation Sans", sans-serif'><tspan font-weight="bold">Concentration</tspan> (mg/mL)</text>
<text transform="translate(7.5,425.8) rotate(-90) scale(1.083,1)" text-anchor="middle" font-size="9.6" fill="#000" font-family='"Liberation Sans", sans-serif'><tspan font-weight="bold">Inhibition zone</tspan> (mm)</text>
<text x="5.7" y="302.9" font-size="11" fill="#222" font-family='"Liberation Sans", sans-serif'>c)</text>
<path clip-path="url(#clip-c)" d="M33.9,533.8 L34,531.84 L34.11,529.94 L34.21,528.15 L34.31,526.54 L34.41,525.16 L34.5,524.06 L34.59,523.25 L34.68,522.5 L34.77,521.52 L34.87,520.02 L34.98,517.72 L35.1,514.32 L35.13,513.31 L35.17,512.23 L35.2,511.07 L35.24,509.84 L35.27,508.56 L35.31,507.21 L35.35,505.8 L35.39,504.34 L35.43,502.84 L35.47,501.29 L35.52,499.7 L35.56,498.07 L35.61,496.41 L35.66,494.72 L35.71,493.01 L35.76,491.27 L35.81,489.52 L35.87,487.76 L35.93,485.98 L35.98,484.2 L36.04,482.42 L36.11,480.64 L36.17,478.87 L36.24,477.11 L36.31,475.36 L36.37,473.7 L36.44,472.05 L36.52,470.42 L36.59,468.8 L36.66,467.2 L36.74,465.61 L36.82,464.04 L36.9,462.48 L36.99,460.94 L37.07,459.4 L37.16,457.89 L37.25,456.38 L37.34,454.89 L37.43,453.4 L37.53,451.93 L37.62,450.47 L37.72,449.03 L37.83,447.59 L37.93,446.16 L38.03,444.74 L38.14,443.33 L38.25,441.93 L38.36,440.53 L38.48,439.15 L38.59,437.77 L38.71,436.4 L38.88,434.54 L39.05,432.69 L39.22,430.86 L39.4,429.06 L39.59,427.28 L39.79,425.53 L39.99,423.82 L40.2,422.14 L40.42,420.51 L40.65,418.92 L40.89,417.37 L41.13,415.88 L41.39,414.45 L41.67,413.07 L41.95,411.75 L42.25,410.5 L42.56,409.32 L42.88,408.21 L43.22,407.18 L43.99,405.25 L44.83,403.64 L45.74,402.29 L46.73,401.17 L47.79,400.23 L48.93,399.43 L50.16,398.73 L51.46,398.08 L52.85,397.44 L53.79,397.02 L54.77,396.57 L55.8,396.1 L56.87,395.6 L58,395.07 L59.2,394.49 L60.45,393.87 L61.78,393.19 L63.19,392.45 L64.67,391.65 L66.24,390.78 L67.89,389.84 L69.65,388.81 L71.5,387.7 L72.47,387.11 L73.46,386.5 L74.47,385.87 L75.52,385.22 L76.59,384.55 L77.69,383.87 L78.82,383.17 L79.97,382.47 L81.15,381.75 L82.36,381.02 L83.6,380.29 L84.86,379.55 L86.16,378.8 L87.48,378.06 L88.83,377.31 L90.21,376.56 L91.62,375.82 L93.06,375.08 L94.53,374.34 L96.02,373.61 L97.55,372.89 L99.11,372.18 L100.7,371.48 L102.32,370.8 L103.97,370.13 L105.65,369.47 L107.36,368.84 L109.1,368.22 L110.09,367.88 L111.09,367.55 L112.1,367.23 L113.12,366.91 L114.16,366.6 L115.21,366.3 L116.27,366 L117.35,365.71 L118.44,365.42 L119.55,365.14 L120.67,364.87 L121.81,364.6 L122.97,364.34 L124.15,364.09 L125.34,363.84 L126.56,363.6 L127.8,363.36 L129.05,363.13 L130.33,362.9 L131.63,362.68 L132.96,362.47 L134.3,362.26 L135.68,362.05 L137.07,361.86 L138.5,361.66 L139.95,361.48 L141.42,361.29 L142.92,361.12 L144.46,360.95 L146.02,360.78 L147.61,360.62 L149.23,360.46 L150.88,360.31 L152.56,360.17 L154.27,360.03 L156.02,359.89 L157.8,359.76 L159.62,359.63 L161.47,359.51 L163.35,359.4 L165.27,359.28 L167.23,359.18 L169.23,359.07 L171.26,358.98 L173.33,358.88 L175.45,358.79 L177.6,358.71 L179.79,358.63 L182.02,358.55 L184.3,358.48 L185.45,358.45 L186.62,358.41 L187.79,358.38 L188.98,358.35 L190.17,358.32 L191.38,358.29 L192.59,358.26 L193.82,358.23 L195.06,358.21 L196.3,358.18 L197.56,358.16 L198.82,358.13 L200.09,358.11 L201.38,358.09 L202.67,358.07 L203.97,358.05 L205.28,358.03 L206.6,358.01 L207.92,357.99 L209.26,357.98 L210.61,357.96 L211.96,357.95 L213.32,357.93 L214.69,357.92 L216.07,357.91 L217.45,357.9 L218.85,357.88 L220.25,357.87 L221.66,357.86 L223.07,357.86 L224.5,357.85 L225.93,357.84 L227.37,357.83 L228.81,357.83 L230.27,357.82 L231.73,357.82 L233.19,357.82 L234.67,357.81 L236.15,357.81 L237.63,357.81 L239.13,357.81 L240.63,357.81 L242.13,357.81 L243.64,357.81 L245.16,357.81 L246.68,357.81 L248.21,357.81 L249.75,357.82 L251.29,357.82 L252.83,357.82 L254.39,357.83 L255.94,357.83 L257.5,357.84 L259.07,357.85 L260.64,357.85 L262.22,357.86 L263.8,357.87 L265.38,357.88 L266.97,357.88 L268.57,357.89 L270.17,357.9 L271.77,357.91 L273.38,357.92 L274.99,357.93 L276.6,357.94 L278.22,357.95 L279.84,357.97 L281.47,357.98 L283.1,357.99 L284.73,358 L286.36,358.02 L288,358.03 L289.64,358.04 L291.29,358.06 L292.93,358.07 L294.58,358.08 L296.24,358.1 L297.89,358.11 L299.55,358.13 L301.21,358.14 L302.87,358.16 L304.53,358.18 L306.2,358.19 L307.86,358.21 L309.53,358.22 L311.2,358.24 L312.88,358.26 L314.55,358.27 L316.22,358.29 L317.9,358.31 L319.58,358.32 L321.26,358.34 L322.93,358.36 L324.61,358.38 L326.29,358.39 L327.97,358.41 L329.66,358.43 L331.34,358.45 L333.02,358.46 L334.7,358.48" fill="none" stroke="#470a86" stroke-width="1.6"/>
<path clip-path="url(#clip-c)" d="M35.7,533.8 L35.74,533.35 L35.79,532.71 L35.85,531.66 L35.96,530 L36.1,527.53 L36.31,524.06 L36.36,523.09 L36.42,522.07 L36.48,520.98 L36.55,519.84 L36.62,518.64 L36.69,517.38 L36.77,516.08 L36.85,514.73 L36.93,513.34 L37.02,511.9 L37.1,510.43 L37.19,508.91 L37.29,507.36 L37.38,505.78 L37.48,504.17 L37.58,502.52 L37.69,500.86 L37.79,499.17 L37.9,497.46 L38.01,495.73 L38.12,493.98 L38.24,492.22 L38.35,490.45 L38.47,488.67 L38.59,486.89 L38.71,485.1 L38.81,483.65 L38.91,482.19 L39.02,480.73 L39.12,479.27 L39.23,477.81 L39.34,476.35 L39.45,474.88 L39.56,473.41 L39.67,471.94 L39.79,470.46 L39.91,468.98 L40.03,467.5 L40.15,466.01 L40.28,464.51 L40.41,463.01 L40.55,461.51 L40.68,460 L40.82,458.48 L40.97,456.95 L41.11,455.42 L41.27,453.89 L41.42,452.34 L41.58,450.79 L41.74,449.22 L41.91,447.65 L42.08,446.07 L42.26,444.49 L42.44,442.89 L42.63,441.28 L42.82,439.67 L43.02,438.04 L43.22,436.4 L43.43,434.8 L43.63,433.19 L43.85,431.58 L44.06,429.96 L44.29,428.34 L44.52,426.71 L44.75,425.08 L44.99,423.46 L45.23,421.83 L45.48,420.21 L45.74,418.6 L46,416.99 L46.27,415.39 L46.54,413.8 L46.82,412.23 L47.1,410.67 L47.39,409.12 L47.69,407.59 L47.99,406.07 L48.3,404.58 L48.61,403.11 L48.93,401.66 L49.26,400.24 L49.59,398.84 L49.93,397.47 L50.27,396.13 L50.62,394.82 L50.98,393.54 L51.34,392.3 L51.71,391.09 L52.08,389.92 L52.46,388.79 L52.85,387.7 L53.62,385.7 L54.42,383.85 L55.25,382.14 L56.11,380.57 L57,379.12 L57.94,377.78 L58.91,376.55 L59.93,375.42 L60.99,374.38 L62.11,373.41 L63.27,372.52 L64.49,371.7 L65.77,370.93 L67.1,370.2 L68.5,369.52 L69.97,368.86 L71.5,368.22 L72.58,367.79 L73.7,367.37 L74.85,366.96 L76.03,366.55 L77.25,366.14 L78.5,365.74 L79.78,365.34 L81.1,364.94 L82.46,364.55 L83.85,364.16 L85.27,363.77 L86.74,363.39 L88.23,363 L89.77,362.62 L91.34,362.24 L92.94,361.87 L94.59,361.49 L96.27,361.11 L97.99,360.74 L99.74,360.36 L101.54,359.99 L103.37,359.61 L105.24,359.24 L107.15,358.86 L109.1,358.48 L110.09,358.29 L111.09,358.1 L112.1,357.91 L113.12,357.72 L114.16,357.53 L115.21,357.34 L116.27,357.14 L117.35,356.95 L118.44,356.76 L119.55,356.57 L120.67,356.38 L121.81,356.18 L122.97,355.99 L124.15,355.8 L125.34,355.6 L126.56,355.41 L127.8,355.21 L129.05,355.02 L130.33,354.82 L131.63,354.63 L132.96,354.43 L134.3,354.24 L135.68,354.04 L137.07,353.85 L138.5,353.65 L139.95,353.46 L141.42,353.26 L142.92,353.06 L144.46,352.87 L146.02,352.67 L147.61,352.48 L149.23,352.28 L150.88,352.08 L152.56,351.89 L154.27,351.69 L156.02,351.49 L157.8,351.3 L159.62,351.1 L161.47,350.9 L163.35,350.71 L165.27,350.51 L167.23,350.31 L169.23,350.12 L171.26,349.92 L173.33,349.72 L175.45,349.53 L177.6,349.33 L179.79,349.13 L182.02,348.94 L184.3,348.74 L185.45,348.64 L186.62,348.54 L187.79,348.45 L188.98,348.35 L190.17,348.25 L191.38,348.15 L192.59,348.05 L193.82,347.96 L195.06,347.86 L196.3,347.76 L197.56,347.66 L198.82,347.56 L200.09,347.47 L201.38,347.37 L202.67,347.27 L203.97,347.17 L205.28,347.07 L206.6,346.98 L207.92,346.88 L209.26,346.78 L210.61,346.68 L211.96,346.59 L213.32,346.49 L214.69,346.39 L216.07,346.29 L217.45,346.19 L218.85,346.1 L220.25,346 L221.66,345.9 L223.07,345.8 L224.5,345.71 L225.93,345.61 L227.37,345.51 L228.81,345.41 L230.27,345.32 L231.73,345.22 L233.19,345.12 L234.67,345.02 L236.15,344.93 L237.63,344.83 L239.13,344.73 L240.63,344.63 L242.13,344.54 L243.64,344.44 L245.16,344.34 L246.68,344.25 L248.21,344.15 L249.75,344.05 L251.29,343.95 L252.83,343.86 L254.39,343.76 L255.94,343.66 L257.5,343.56 L259.07,343.47 L260.64,343.37 L262.22,343.27 L263.8,343.18 L265.38,343.08 L266.97,342.98 L268.57,342.88 L270.17,342.79 L271.77,342.69 L273.38,342.59 L274.99,342.49 L276.6,342.4 L278.22,342.3 L279.84,342.2 L281.47,342.11 L283.1,342.01 L284.73,341.91 L286.36,341.81 L288,341.72 L289.64,341.62 L291.29,341.52 L292.93,341.43 L294.58,341.33 L296.24,341.23 L297.89,341.13 L299.55,341.04 L301.21,340.94 L302.87,340.84 L304.53,340.75 L306.2,340.65 L307.86,340.55 L309.53,340.46 L311.2,340.36 L312.88,340.26 L314.55,340.16 L316.22,340.07 L317.9,339.97 L319.58,339.87 L321.26,339.78 L322.93,339.68 L324.61,339.58 L326.29,339.49 L327.97,339.39 L329.66,339.29 L331.34,339.19 L333.02,339.1 L334.7,339" fill="none" stroke="#1414a4" stroke-width="1.55" stroke-dasharray="1.55 1.9"/>
<path clip-path="url(#clip-c)" d="M33.9,533.8 L34.11,533.52 L34.32,533.02 L34.53,532.05 L34.73,530.38 L34.92,527.8 L35.1,524.06 L35.15,522.97 L35.19,521.8 L35.23,520.56 L35.27,519.25 L35.31,517.89 L35.35,516.47 L35.4,514.99 L35.44,513.48 L35.48,511.91 L35.52,510.32 L35.57,508.68 L35.61,507.03 L35.65,505.34 L35.7,503.64 L35.75,501.93 L35.8,500.21 L35.85,498.48 L35.9,496.76 L35.95,495.04 L36,493.33 L36.06,491.63 L36.12,489.96 L36.18,488.31 L36.24,486.69 L36.31,485.1 L36.4,483.07 L36.49,481.1 L36.59,479.2 L36.69,477.36 L36.8,475.58 L36.91,473.85 L37.02,472.18 L37.14,470.57 L37.26,469.01 L37.39,467.5 L37.52,466.04 L37.66,464.62 L37.8,463.25 L37.94,461.93 L38.09,460.64 L38.24,459.39 L38.39,458.19 L38.55,457.02 L38.71,455.88 L38.96,454.28 L39.21,452.73 L39.48,451.23 L39.76,449.77 L40.06,448.33 L40.37,446.91 L40.7,445.49 L41.06,444.06 L41.44,442.61 L41.84,441.13 L42.27,439.61 L42.73,438.04 L43.22,436.4 L43.56,435.3 L43.91,434.16 L44.28,432.99 L44.66,431.79 L45.05,430.55 L45.46,429.28 L45.89,427.97 L46.33,426.62 L46.78,425.23 L47.25,423.8 L47.74,422.34 L48.24,420.83 L48.76,419.28 L49.29,417.68 L49.84,416.05 L50.41,414.37 L50.99,412.64 L51.6,410.87 L52.21,409.05 L52.85,407.18 L53.32,405.82 L53.79,404.43 L54.27,403.02 L54.77,401.6 L55.28,400.16 L55.8,398.71 L56.33,397.24 L56.87,395.77 L57.43,394.29 L58,392.81 L58.59,391.33 L59.2,389.85 L59.82,388.37 L60.45,386.9 L61.11,385.43 L61.78,383.98 L62.47,382.54 L63.19,381.11 L63.92,379.71 L64.67,378.32 L65.44,376.95 L66.24,375.61 L67.05,374.3 L67.89,373.01 L68.76,371.76 L69.65,370.54 L70.56,369.36 L71.5,368.22 L72.47,367.12 L73.46,366.06 L74.47,365.03 L75.52,364.05 L76.59,363.1 L77.69,362.19 L78.82,361.31 L79.97,360.46 L81.15,359.65 L82.36,358.87 L83.6,358.11 L84.86,357.39 L86.16,356.69 L87.48,356.02 L88.83,355.38 L90.21,354.76 L91.62,354.16 L93.06,353.58 L94.53,353.02 L96.02,352.48 L97.55,351.97 L99.11,351.46 L100.7,350.98 L102.32,350.5 L103.97,350.05 L105.65,349.6 L107.36,349.16 L109.1,348.74 L110.09,348.51 L111.09,348.27 L112.1,348.05 L113.12,347.82 L114.16,347.6 L115.21,347.38 L116.27,347.16 L117.35,346.94 L118.44,346.73 L119.55,346.51 L120.67,346.3 L121.81,346.1 L122.97,345.89 L124.15,345.69 L125.34,345.48 L126.56,345.28 L127.8,345.08 L129.05,344.89 L130.33,344.69 L131.63,344.5 L132.96,344.3 L134.3,344.11 L135.68,343.92 L137.07,343.73 L138.5,343.54 L139.95,343.36 L141.42,343.17 L142.92,342.99 L144.46,342.8 L146.02,342.62 L147.61,342.43 L149.23,342.25 L150.88,342.07 L152.56,341.89 L154.27,341.71 L156.02,341.53 L157.8,341.35 L159.62,341.17 L161.47,340.99 L163.35,340.81 L165.27,340.63 L167.23,340.45 L169.23,340.27 L171.26,340.09 L173.33,339.91 L175.45,339.73 L177.6,339.55 L179.79,339.37 L182.02,339.18 L184.3,339 L185.45,338.91 L186.62,338.82 L187.79,338.72 L188.98,338.63 L190.17,338.54 L191.38,338.45 L192.59,338.35 L193.82,338.26 L195.06,338.17 L196.3,338.08 L197.56,337.98 L198.82,337.89 L200.09,337.8 L201.38,337.7 L202.67,337.61 L203.97,337.51 L205.28,337.42 L206.6,337.32 L207.92,337.23 L209.26,337.14 L210.61,337.04 L211.96,336.95 L213.32,336.85 L214.69,336.76 L216.07,336.66 L217.45,336.56 L218.85,336.47 L220.25,336.37 L221.66,336.28 L223.07,336.18 L224.5,336.09 L225.93,335.99 L227.37,335.89 L228.81,335.8 L230.27,335.7 L231.73,335.6 L233.19,335.51 L234.67,335.41 L236.15,335.31 L237.63,335.22 L239.13,335.12 L240.63,335.02 L242.13,334.92 L243.64,334.83 L245.16,334.73 L246.68,334.63 L248.21,334.53 L249.75,334.43 L251.29,334.34 L252.83,334.24 L254.39,334.14 L255.94,334.04 L257.5,333.94 L259.07,333.85 L260.64,333.75 L262.22,333.65 L263.8,333.55 L265.38,333.45 L266.97,333.35 L268.57,333.25 L270.17,333.15 L271.77,333.06 L273.38,332.96 L274.99,332.86 L276.6,332.76 L278.22,332.66 L279.84,332.56 L281.47,332.46 L283.1,332.36 L284.73,332.26 L286.36,332.16 L288,332.06 L289.64,331.96 L291.29,331.86 L292.93,331.76 L294.58,331.66 L296.24,331.56 L297.89,331.46 L299.55,331.36 L301.21,331.26 L302.87,331.16 L304.53,331.06 L306.2,330.96 L307.86,330.86 L309.53,330.76 L311.2,330.66 L312.88,330.56 L314.55,330.46 L316.22,330.36 L317.9,330.26 L319.58,330.16 L321.26,330.06 L322.93,329.96 L324.61,329.86 L326.29,329.76 L327.97,329.66 L329.66,329.56 L331.34,329.46 L333.02,329.36 L334.7,329.26" fill="none" stroke="#0000ff" stroke-width="1.9" stroke-dasharray="6.8 2.6"/>
<circle cx="34.5" cy="524.06" r="2.9" fill="#000"/>
<circle cx="35.1" cy="514.32" r="2.9" fill="#000"/>
<circle cx="36.31" cy="475.36" r="2.9" fill="#000"/>
<circle cx="38.71" cy="436.4" r="2.9" fill="#000"/>
<circle cx="43.22" cy="407.18" r="2.9" fill="#000"/>
<circle cx="52.85" cy="397.44" r="2.9" fill="#000"/>
<circle cx="71.5" cy="387.7" r="2.9" fill="#000"/>
<circle cx="109.1" cy="368.22" r="2.9" fill="#000"/>
<circle cx="184.3" cy="358.48" r="2.9" fill="#000"/>
<circle cx="334.7" cy="358.48" r="2.9" fill="#000"/>
<circle cx="36.31" cy="524.06" r="2.55" fill="#fff" stroke="#000" stroke-width="0.9"/>
<circle cx="38.71" cy="485.1" r="2.55" fill="#fff" stroke="#000" stroke-width="0.9"/>
<circle cx="43.22" cy="436.4" r="2.55" fill="#fff" stroke="#000" stroke-width="0.9"/>
<circle cx="52.85" cy="387.7" r="2.55" fill="#fff" stroke="#000" stroke-width="0.9"/>
<circle cx="71.5" cy="368.22" r="2.55" fill="#fff" stroke="#000" stroke-width="0.9"/>
<circle cx="109.1" cy="358.48" r="2.55" fill="#fff" stroke="#000" stroke-width="0.9"/>
<circle cx="184.3" cy="348.74" r="2.55" fill="#fff" stroke="#000" stroke-width="0.9"/>
<circle cx="334.7" cy="339" r="2.55" fill="#fff" stroke="#000" stroke-width="0.9"/>
<path d="M31.95,521.86H38.25L35.1,527.26Z" fill="#000"/>
<path d="M33.16,482.9H39.46L36.31,488.3Z" fill="#000"/>
<path d="M35.56,453.68H41.86L38.71,459.08Z" fill="#000"/>
<circle cx="43.22" cy="436.4" r="2.7" fill="#000"/>
<path d="M40.07,434.2H46.37L43.22,439.6Z" fill="#000"/>
<path d="M49.7,404.98H56L52.85,410.38Z" fill="#000"/>
<circle cx="71.5" cy="368.22" r="2.7" fill="#000"/>
<path d="M68.35,366.02H74.65L71.5,371.42Z" fill="#000"/>
<path d="M105.95,346.54H112.25L109.1,351.94Z" fill="#000"/>
<path d="M181.15,336.8H187.45L184.3,342.2Z" fill="#000"/>
<path d="M331.55,327.06H337.85L334.7,332.46Z" fill="#000"/>
<rect x="200.3" y="400.8" width="90.4" height="43.6" fill="#fff" stroke="#3a3a3a" stroke-width="0.9"/>
<path d="M205.2,411.5H232.3" fill="none" stroke="#470a86" stroke-width="1.6"/>
<circle cx="218.75" cy="411.5" r="2.9" fill="#000"/>
<text x="239" y="414.3" font-size="8.47" font-style="italic" fill="#000" font-family='"Liberation Sans", sans-serif'>B. mycoides</text>
<path d="M205.2,422.6H232.3" fill="none" stroke="#1414a4" stroke-width="1.55" stroke-dasharray="1.55 1.9"/>
<circle cx="218.75" cy="422.6" r="2.55" fill="#fff" stroke="#000" stroke-width="0.9"/>
<text x="239" y="425.4" font-size="8.47" font-style="italic" fill="#000" font-family='"Liberation Sans", sans-serif'>E. coli</text>
<path d="M205.2,433.3H232.3" fill="none" stroke="#0000ff" stroke-width="1.9" stroke-dasharray="6.8 2.6"/>
<path d="M215.6,431.1H221.9L218.75,436.5Z" fill="#000"/>
<text x="239" y="436.1" font-size="8.47" font-style="italic" fill="#000" font-family='"Liberation Sans", sans-serif'>C. albicans</text>
</g>
<g id="panel-d">
<clipPath id="clip-d"><rect x="397.7" y="315.95" width="308.9" height="221.95"/></clipPath>
<path d="M401.7,319.95V537.3H702.6" fill="none" stroke="#222" stroke-width="1"/>
<path d="M401.7,537.3v3.6M461.88,537.3v3.6M522.06,537.3v3.6M582.24,537.3v3.6M642.42,537.3v3.6M702.6,537.3v3.6M401.7,522.81h-3.5M401.7,493.83h-3.5M401.7,464.85h-3.5M401.7,435.87h-3.5M401.7,406.89h-3.5M401.7,377.91h-3.5M401.7,348.93h-3.5M401.7,319.95h-3.5" fill="none" stroke="#222" stroke-width="1"/>
<g font-size="8.3" fill="#222" font-family='"Liberation Sans", sans-serif'>
<text x="401.7" y="552.5" text-anchor="middle">0</text>
<text x="461.88" y="552.5" text-anchor="middle">2</text>
<text x="522.06" y="552.5" text-anchor="middle">4</text>
<text x="582.24" y="552.5" text-anchor="middle">6</text>
<text x="642.42" y="552.5" text-anchor="middle">8</text>
<text x="702.6" y="552.5" text-anchor="middle">10</text>
<text x="394.2" y="525.41" text-anchor="end">16</text>
<text x="394.2" y="496.43" text-anchor="end">18</text>
<text x="394.2" y="467.45" text-anchor="end">20</text>
<text x="394.2" y="438.47" text-anchor="end">22</text>
<text x="394.2" y="409.49" text-anchor="end">24</text>
<text x="394.2" y="380.51" text-anchor="end">26</text>
<text x="394.2" y="351.53" text-anchor="end">28</text>
<text x="394.2" y="322.55" text-anchor="end">30</text>
</g>
<text transform="translate(552.1,571.7) scale(1.02,1)" text-anchor="middle" font-size="9.9" fill="#000" font-family='"Liberation Sans", sans-serif'><tspan font-weight="bold">Concentration</tspan> (mg/mL)</text>
<text transform="translate(375.7,428) rotate(-90) scale(1.083,1)" text-anchor="middle" font-size="9.6" fill="#000" font-family='"Liberation Sans", sans-serif'><tspan font-weight="bold">Inhibition zone</tspan> (mm)</text>
<text x="373.5" y="303" font-size="11" fill="#222" font-family='"Liberation Sans", sans-serif'>d)</text>
<path clip-path="url(#clip-d)" d="M402.3,537.3 L402.36,535.3 L402.42,533.33 L402.47,531.42 L402.53,529.6 L402.6,527.89 L402.67,526.33 L402.74,524.95 L402.82,523.76 L402.9,522.81 L403.04,521.85 L403.2,521.39 L403.39,521.35 L403.6,521.63 L403.84,522.14 L404.11,522.81 L404.41,523.53 L404.76,524.16 L405.14,524.56 L405.56,524.56 L406.02,524.03 L406.51,522.81 L406.83,521.7 L407.17,520.35 L407.53,518.82 L407.92,517.18 L408.33,515.48 L408.79,513.78 L409.28,512.16 L409.81,510.67 L410.39,509.37 L411.03,508.32 L412.21,507.23 L413.55,506.83 L415.06,506.93 L416.74,507.33 L418.6,507.86 L420.66,508.32 L421.53,508.44 L422.44,508.5 L423.39,508.47 L424.39,508.34 L425.43,508.08 L426.52,507.67 L427.67,507.1 L428.87,506.33 L430.14,505.35 L431.48,504.14 L432.89,502.67 L434.37,500.93 L435.93,498.89 L437.58,496.53 L439.31,493.83 L439.9,492.87 L440.49,491.88 L441.1,490.85 L441.71,489.79 L442.33,488.69 L442.97,487.57 L443.61,486.41 L444.26,485.23 L444.93,484.02 L445.6,482.79 L446.29,481.54 L446.98,480.26 L447.68,478.97 L448.4,477.66 L449.12,476.33 L449.86,474.99 L450.6,473.63 L451.36,472.27 L452.13,470.89 L452.9,469.5 L453.69,468.11 L454.49,466.72 L455.3,465.32 L456.12,463.92 L456.95,462.52 L457.79,461.12 L458.64,459.72 L459.5,458.33 L460.37,456.94 L461.26,455.56 L462.15,454.19 L463.06,452.83 L463.98,451.49 L464.91,450.16 L465.84,448.84 L466.8,447.54 L467.76,446.27 L468.73,445.01 L469.71,443.77 L470.71,442.56 L471.72,441.37 L472.74,440.21 L473.77,439.08 L474.81,437.98 L475.86,436.91 L476.92,435.87 L477.86,435 L478.8,434.15 L479.75,433.33 L480.72,432.53 L481.69,431.76 L482.68,431.01 L483.67,430.28 L484.68,429.57 L485.71,428.88 L486.75,428.21 L487.8,427.56 L488.86,426.92 L489.94,426.31 L491.04,425.71 L492.16,425.12 L493.29,424.55 L494.44,424 L495.6,423.46 L496.79,422.93 L497.99,422.41 L499.22,421.9 L500.46,421.41 L501.73,420.92 L503.02,420.44 L504.33,419.97 L505.66,419.51 L507.01,419.05 L508.39,418.6 L509.79,418.15 L511.22,417.71 L512.67,417.27 L514.15,416.83 L515.66,416.4 L517.19,415.96 L518.75,415.53 L520.34,415.09 L521.95,414.66 L523.6,414.22 L525.27,413.78 L526.98,413.34 L528.71,412.89 L530.48,412.44 L532.28,411.98 L534.11,411.51 L535.98,411.04 L537.87,410.55 L539.81,410.06 L541.77,409.56 L543.78,409.05 L545.82,408.53 L547.89,408 L550,407.45 L552.15,406.89 L553.26,406.6 L554.38,406.3 L555.51,406.01 L556.65,405.7 L557.79,405.4 L558.95,405.09 L560.12,404.78 L561.3,404.46 L562.48,404.14 L563.67,403.82 L564.88,403.49 L566.09,403.16 L567.31,402.83 L568.54,402.49 L569.78,402.15 L571.02,401.81 L572.28,401.47 L573.54,401.12 L574.81,400.77 L576.09,400.41 L577.38,400.05 L578.67,399.69 L579.97,399.33 L581.28,398.96 L582.6,398.59 L583.93,398.22 L585.26,397.85 L586.6,397.47 L587.95,397.09 L589.3,396.7 L590.66,396.32 L592.03,395.93 L593.41,395.54 L594.79,395.15 L596.18,394.75 L597.57,394.35 L598.97,393.95 L600.38,393.55 L601.8,393.14 L603.22,392.73 L604.64,392.32 L606.08,391.91 L607.51,391.49 L608.96,391.08 L610.41,390.66 L611.86,390.24 L613.32,389.81 L614.79,389.39 L616.26,388.96 L617.74,388.53 L619.22,388.1 L620.71,387.67 L622.2,387.23 L623.7,386.8 L625.2,386.36 L626.7,385.92 L628.21,385.47 L629.73,385.03 L631.25,384.59 L632.77,384.14 L634.3,383.69 L635.83,383.24 L637.37,382.79 L638.91,382.33 L640.45,381.88 L642,381.42 L643.55,380.97 L645.1,380.51 L646.66,380.05 L648.22,379.59 L649.79,379.13 L651.35,378.66 L652.93,378.2 L654.5,377.73 L656.08,377.26 L657.65,376.8 L659.24,376.33 L660.82,375.86 L662.41,375.39 L664,374.92 L665.59,374.44 L667.18,373.97 L668.78,373.5 L670.37,373.02 L671.97,372.54 L673.58,372.07 L675.18,371.59 L676.78,371.11 L678.39,370.64 L680,370.16 L681.61,369.68 L683.22,369.2 L684.83,368.72 L686.44,368.24 L688.05,367.76 L689.67,367.28 L691.28,366.79 L692.9,366.31 L694.51,365.83 L696.13,365.35 L697.75,364.87 L699.36,364.38 L700.98,363.9 L702.6,363.42" fill="none" stroke="#470a86" stroke-width="1.6"/>
<path clip-path="url(#clip-d)" d="M405.61,537.3 L405.63,536.12 L405.66,534.91 L405.7,533.64 L405.76,532.26 L405.84,530.76 L405.95,529.1 L406.1,527.24 L406.28,525.15 L406.51,522.81 L406.64,521.6 L406.78,520.33 L406.93,519.01 L407.09,517.63 L407.27,516.2 L407.46,514.74 L407.66,513.23 L407.87,511.69 L408.09,510.12 L408.33,508.53 L408.58,506.92 L408.84,505.29 L409.11,503.65 L409.4,502 L409.7,500.35 L410.01,498.71 L410.34,497.07 L410.68,495.44 L411.03,493.83 L411.38,492.32 L411.73,490.82 L412.11,489.34 L412.49,487.87 L412.89,486.42 L413.3,484.97 L413.73,483.54 L414.17,482.11 L414.62,480.68 L415.09,479.26 L415.57,477.84 L416.07,476.42 L416.59,475 L417.12,473.57 L417.67,472.14 L418.23,470.7 L418.81,469.26 L419.41,467.8 L420.02,466.33 L420.66,464.85 L421.25,463.49 L421.86,462.12 L422.48,460.74 L423.12,459.36 L423.79,457.97 L424.47,456.58 L425.18,455.18 L425.91,453.8 L426.66,452.41 L427.45,451.04 L428.25,449.67 L429.09,448.32 L429.96,446.97 L430.86,445.65 L431.79,444.34 L432.75,443.05 L433.75,441.79 L434.79,440.55 L435.86,439.33 L436.97,438.15 L438.12,436.99 L439.31,435.87 L440.18,435.1 L441.08,434.34 L441.99,433.59 L442.93,432.85 L443.89,432.12 L444.87,431.4 L445.87,430.67 L446.89,429.95 L447.94,429.22 L449.01,428.48 L450.1,427.74 L451.22,426.99 L452.35,426.22 L453.51,425.43 L454.7,424.63 L455.91,423.8 L457.14,422.95 L458.39,422.07 L459.67,421.15 L460.97,420.21 L462.3,419.23 L463.65,418.21 L465.03,417.16 L466.43,416.05 L467.85,414.9 L469.3,413.71 L470.78,412.46 L472.28,411.15 L473.8,409.79 L475.35,408.37 L476.92,406.89 L477.71,406.14 L478.5,405.37 L479.3,404.58 L480.1,403.79 L480.92,402.98 L481.74,402.15 L482.57,401.31 L483.4,400.46 L484.25,399.6 L485.11,398.73 L485.97,397.84 L486.84,396.95 L487.73,396.05 L488.62,395.13 L489.53,394.21 L490.45,393.28 L491.38,392.34 L492.32,391.39 L493.27,390.44 L494.23,389.48 L495.21,388.51 L496.2,387.54 L497.21,386.56 L498.22,385.58 L499.26,384.6 L500.3,383.61 L501.36,382.61 L502.44,381.62 L503.53,380.62 L504.64,379.62 L505.76,378.62 L506.9,377.62 L508.06,376.62 L509.23,375.62 L510.42,374.62 L511.63,373.63 L512.86,372.63 L514.1,371.63 L515.37,370.64 L516.65,369.65 L517.95,368.67 L519.27,367.69 L520.62,366.71 L521.98,365.74 L523.36,364.78 L524.76,363.82 L526.19,362.87 L527.63,361.92 L529.1,360.99 L530.59,360.06 L532.11,359.13 L533.64,358.22 L535.2,357.32 L536.79,356.43 L538.39,355.55 L540.02,354.68 L541.68,353.82 L543.36,352.97 L545.07,352.13 L546.8,351.31 L548.56,350.5 L550.34,349.71 L552.15,348.93 L553.28,348.46 L554.42,347.99 L555.57,347.52 L556.74,347.07 L557.91,346.61 L559.09,346.17 L560.28,345.73 L561.48,345.29 L562.69,344.86 L563.91,344.43 L565.14,344.01 L566.38,343.6 L567.62,343.19 L568.88,342.78 L570.14,342.38 L571.42,341.98 L572.7,341.59 L573.99,341.21 L575.29,340.82 L576.59,340.45 L577.91,340.07 L579.23,339.71 L580.56,339.34 L581.9,338.98 L583.25,338.63 L584.61,338.28 L585.97,337.93 L587.34,337.59 L588.72,337.25 L590.1,336.92 L591.5,336.59 L592.89,336.26 L594.3,335.94 L595.71,335.62 L597.14,335.31 L598.56,335 L600,334.69 L601.44,334.39 L602.88,334.09 L604.34,333.79 L605.79,333.5 L607.26,333.21 L608.73,332.92 L610.21,332.64 L611.69,332.36 L613.18,332.08 L614.68,331.81 L616.18,331.54 L617.68,331.27 L619.19,331.01 L620.71,330.75 L622.23,330.49 L623.75,330.23 L625.29,329.98 L626.82,329.73 L628.36,329.48 L629.91,329.24 L631.46,328.99 L633.01,328.75 L634.57,328.51 L636.13,328.28 L637.7,328.05 L639.27,327.81 L640.85,327.59 L642.42,327.36 L644.01,327.13 L645.59,326.91 L647.18,326.69 L648.77,326.47 L650.37,326.26 L651.97,326.04 L653.57,325.83 L655.18,325.62 L656.79,325.4 L658.4,325.2 L660.01,324.99 L661.63,324.78 L663.25,324.58 L664.87,324.38 L666.49,324.17 L668.12,323.97 L669.75,323.78 L671.38,323.58 L673.01,323.38 L674.64,323.18 L676.28,322.99 L677.92,322.79 L679.56,322.6 L681.2,322.41 L682.84,322.22 L684.48,322.03 L686.12,321.83 L687.77,321.64 L689.41,321.46 L691.06,321.27 L692.71,321.08 L694.36,320.89 L696,320.7 L697.65,320.51 L699.3,320.33 L700.95,320.14 L702.6,319.95" fill="none" stroke="#1414a4" stroke-width="1.55" stroke-dasharray="1.55 1.9"/>
<path clip-path="url(#clip-d)" d="M404.41,537.3 L404.45,536.04 L404.49,534.77 L404.53,533.49 L404.57,532.2 L404.62,530.9 L404.67,529.57 L404.73,528.21 L404.78,526.83 L404.85,525.41 L404.92,523.95 L404.99,522.44 L405.08,520.89 L405.17,519.29 L405.27,517.63 L405.37,515.91 L405.49,514.12 L405.62,512.26 L405.76,510.33 L405.91,508.32 L406.02,506.96 L406.13,505.56 L406.25,504.14 L406.37,502.69 L406.49,501.21 L406.63,499.71 L406.76,498.19 L406.91,496.65 L407.05,495.1 L407.21,493.53 L407.36,491.96 L407.53,490.37 L407.69,488.79 L407.87,487.2 L408.04,485.61 L408.23,484.02 L408.41,482.44 L408.61,480.87 L408.8,479.31 L409,477.76 L409.21,476.23 L409.42,474.71 L409.64,473.22 L409.86,471.75 L410.08,470.31 L410.31,468.89 L410.55,467.51 L410.78,466.16 L411.03,464.85 L411.39,463.02 L411.76,461.26 L412.14,459.57 L412.53,457.94 L412.94,456.38 L413.35,454.87 L413.78,453.4 L414.22,451.97 L414.67,450.58 L415.14,449.22 L415.62,447.88 L416.11,446.56 L416.62,445.25 L417.15,443.94 L417.69,442.63 L418.25,441.32 L418.83,439.99 L419.42,438.64 L420.03,437.27 L420.66,435.87 L421.24,434.57 L421.85,433.23 L422.47,431.88 L423.11,430.51 L423.77,429.12 L424.46,427.72 L425.16,426.32 L425.89,424.91 L426.65,423.5 L427.43,422.09 L428.24,420.69 L429.08,419.3 L429.95,417.93 L430.85,416.58 L431.78,415.25 L432.74,413.94 L433.74,412.67 L434.78,411.43 L435.86,410.23 L436.97,409.07 L438.12,407.96 L439.31,406.89 L440.35,406.03 L441.43,405.2 L442.53,404.42 L443.66,403.66 L444.83,402.94 L446.03,402.24 L447.26,401.58 L448.52,400.94 L449.81,400.33 L451.13,399.74 L452.49,399.17 L453.88,398.63 L455.3,398.11 L456.76,397.6 L458.25,397.11 L459.77,396.64 L461.33,396.18 L462.92,395.73 L464.55,395.29 L466.21,394.86 L467.91,394.44 L469.64,394.03 L471.41,393.62 L473.21,393.21 L475.05,392.81 L476.92,392.4 L477.9,392.19 L478.88,391.98 L479.87,391.78 L480.87,391.57 L481.88,391.36 L482.91,391.14 L483.95,390.93 L485,390.72 L486.07,390.5 L487.15,390.28 L488.25,390.06 L489.37,389.84 L490.5,389.62 L491.65,389.39 L492.82,389.16 L494,388.93 L495.21,388.69 L496.44,388.46 L497.68,388.22 L498.95,387.97 L500.24,387.72 L501.55,387.47 L502.89,387.22 L504.25,386.96 L505.63,386.7 L507.04,386.43 L508.47,386.16 L509.93,385.88 L511.42,385.6 L512.93,385.31 L514.47,385.02 L516.04,384.73 L517.64,384.42 L519.27,384.12 L520.93,383.8 L522.62,383.49 L524.35,383.16 L526.1,382.83 L527.89,382.49 L529.71,382.15 L531.57,381.8 L533.46,381.45 L535.39,381.08 L537.35,380.71 L539.35,380.33 L541.39,379.95 L543.46,379.56 L545.57,379.16 L547.73,378.75 L549.92,378.33 L552.15,377.91 L553.28,377.7 L554.42,377.48 L555.57,377.26 L556.74,377.04 L557.91,376.81 L559.09,376.59 L560.28,376.36 L561.48,376.13 L562.69,375.9 L563.91,375.67 L565.14,375.44 L566.38,375.2 L567.62,374.96 L568.88,374.72 L570.14,374.48 L571.42,374.24 L572.7,373.99 L573.99,373.74 L575.29,373.5 L576.59,373.25 L577.91,372.99 L579.23,372.74 L580.57,372.48 L581.9,372.23 L583.25,371.97 L584.61,371.71 L585.97,371.45 L587.34,371.18 L588.72,370.92 L590.1,370.65 L591.5,370.39 L592.9,370.12 L594.3,369.85 L595.72,369.58 L597.14,369.3 L598.56,369.03 L600,368.75 L601.44,368.48 L602.88,368.2 L604.34,367.92 L605.8,367.64 L607.26,367.35 L608.73,367.07 L610.21,366.79 L611.69,366.5 L613.18,366.21 L614.68,365.93 L616.18,365.64 L617.68,365.35 L619.19,365.05 L620.71,364.76 L622.23,364.47 L623.76,364.17 L625.29,363.88 L626.82,363.58 L628.36,363.29 L629.91,362.99 L631.46,362.69 L633.01,362.39 L634.57,362.09 L636.13,361.78 L637.7,361.48 L639.27,361.18 L640.85,360.87 L642.42,360.57 L644.01,360.26 L645.59,359.96 L647.18,359.65 L648.77,359.34 L650.37,359.03 L651.97,358.72 L653.57,358.42 L655.18,358.1 L656.79,357.79 L658.4,357.48 L660.01,357.17 L661.63,356.86 L663.25,356.54 L664.87,356.23 L666.49,355.92 L668.12,355.6 L669.75,355.29 L671.38,354.97 L673.01,354.66 L674.64,354.34 L676.28,354.02 L677.92,353.71 L679.56,353.39 L681.2,353.07 L682.84,352.75 L684.48,352.44 L686.12,352.12 L687.77,351.8 L689.41,351.48 L691.06,351.16 L692.71,350.84 L694.36,350.53 L696,350.21 L697.65,349.89 L699.3,349.57 L700.95,349.25 L702.6,348.93" fill="none" stroke="#0000ff" stroke-width="1.9" stroke-dasharray="6.8 2.6"/>
<circle cx="402.3" cy="537.3" r="2.9" fill="#000"/>
<circle cx="402.9" cy="522.81" r="2.9" fill="#000"/>
<circle cx="404.11" cy="522.81" r="2.9" fill="#000"/>
<circle cx="411.03" cy="508.32" r="2.9" fill="#000"/>
<circle cx="420.66" cy="508.32" r="2.9" fill="#000"/>
<circle cx="439.31" cy="493.83" r="2.9" fill="#000"/>
<circle cx="476.92" cy="435.87" r="2.9" fill="#000"/>
<circle cx="552.15" cy="406.89" r="2.9" fill="#000"/>
<circle cx="702.6" cy="363.42" r="2.9" fill="#000"/>
<circle cx="406.51" cy="522.81" r="2.55" fill="#fff" stroke="#000" stroke-width="0.9"/>
<circle cx="411.03" cy="493.83" r="2.55" fill="#fff" stroke="#000" stroke-width="0.9"/>
<circle cx="420.66" cy="464.85" r="2.55" fill="#fff" stroke="#000" stroke-width="0.9"/>
<circle cx="439.31" cy="435.87" r="2.55" fill="#fff" stroke="#000" stroke-width="0.9"/>
<circle cx="476.92" cy="406.89" r="2.55" fill="#fff" stroke="#000" stroke-width="0.9"/>
<circle cx="552.15" cy="348.93" r="2.55" fill="#fff" stroke="#000" stroke-width="0.9"/>
<circle cx="702.6" cy="319.95" r="2.55" fill="#fff" stroke="#000" stroke-width="0.9"/>
<path d="M402.76,506.12H409.06L405.91,511.52Z" fill="#000"/>
<path d="M407.88,462.65H414.18L411.03,468.05Z" fill="#000"/>
<path d="M417.51,433.67H423.81L420.66,439.07Z" fill="#000"/>
<path d="M436.16,404.69H442.46L439.31,410.09Z" fill="#000"/>
<path d="M473.77,390.2H480.07L476.92,395.6Z" fill="#000"/>
<path d="M549,375.71H555.3L552.15,381.11Z" fill="#000"/>
<path d="M699.45,346.73H705.75L702.6,352.13Z" fill="#000"/>
<rect x="604.4" y="434.4" width="90.5" height="43.8" fill="#fff" stroke="#3a3a3a" stroke-width="0.9"/>
<path d="M610.2,445.3H637.7" fill="none" stroke="#470a86" stroke-width="1.6"/>
<circle cx="623.95" cy="445.3" r="2.9" fill="#000"/>
<text x="643.8" y="448.1" font-size="8.49" font-style="italic" fill="#000" font-family='"Liberation Sans", sans-serif'>B. mycoides</text>
<path d="M610.2,456.3H637.7" fill="none" stroke="#1414a4" stroke-width="1.55" stroke-dasharray="1.55 1.9"/>
<circle cx="623.95" cy="456.3" r="2.55" fill="#fff" stroke="#000" stroke-width="0.9"/>
<text x="643.8" y="459.1" font-size="8.49" font-style="italic" fill="#000" font-family='"Liberation Sans", sans-serif'>E. coli</text>
<path d="M610.2,467.5H637.7" fill="none" stroke="#0000ff" stroke-width="1.9" stroke-dasharray="6.8 2.6"/>
<path d="M620.8,465.3H627.1L623.95,470.7Z" fill="#000"/>
<text x="643.8" y="470.3" font-size="8.49" font-style="italic" fill="#000" font-family='"Liberation Sans", sans-serif'>C. albicans</text>
</g>
</svg>
</body></html>
